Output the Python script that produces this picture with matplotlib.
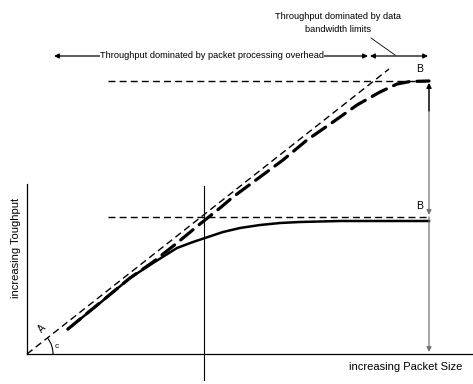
import numpy as np
import matplotlib.pyplot as plt
from matplotlib.patches import Arc

plt.rcParams['font.family'] = ['Liberation Sans', 'DejaVu Sans']

# packet size / throughput in drawing units (origin at the axes corner)
solid_x = [41, 73, 103, 126, 150, 166, 178, 196, 213, 233, 253, 273, 313, 402]
solid_y = [25, 51, 76, 91, 106, 112, 116, 122, 126, 129, 131, 132, 133, 133]

thick_x = [41, 103, 126, 150, 173, 193, 206, 233, 256, 280, 306, 330, 353,
           370, 383, 402]
thick_y = [25, 76, 92, 111, 130, 146, 157, 177, 194, 214, 232, 249, 262,
           270, 272.5, 273]

ideal_x = [0, 362]
ideal_y = [0, 285]

upper_limit = 273
lower_limit = 137
limit_x = [81, 402]
x_max = 446
y_top = 170
mid_x = 177
edge_x = 402

fig = plt.figure(figsize=(4.73, 3.84), dpi=100)
ax = fig.add_axes([0, 0, 1, 1])
ax.set_xlim(-27, 446)
ax.set_ylim(-30, 354)
ax.axis('off')

# axes
ax.plot([0, 0], [0, y_top], color='black', lw=0.9)
ax.plot([0, x_max], [0, 0], color='black', lw=0.9)
ax.plot([mid_x, mid_x], [-26, 168], color='black', lw=0.8)

# curves
ax.plot(ideal_x, ideal_y, color='black', lw=1.0, dashes=(5, 3))
ax.plot(limit_x, [upper_limit] * 2, color='black', lw=1.0, dashes=(5, 3))
ax.plot(limit_x, [lower_limit] * 2, color='black', lw=1.0, dashes=(5, 3))
ax.plot(solid_x, solid_y, color='black', lw=1.8, solid_joinstyle='round')
ax.plot(thick_x, thick_y, color='black', lw=2.3, dashes=(5, 2.5),
        dash_capstyle='round')

# angle at origin
ax.add_patch(Arc((0, 0), 52, 52, theta1=0, theta2=38, color='black', lw=0.8))
ax.text(30, 8, 'c', fontsize=6, ha='center', va='center')
ax.text(15, 25, 'A', fontsize=7, ha='center', va='center', rotation=45)

# right edge arrows
arr = dict(arrowstyle='-|>', color='0.45', lw=0.9, mutation_scale=7,
           shrinkA=0, shrinkB=0)
ax.annotate('', xy=(edge_x, upper_limit - 2), xytext=(edge_x, lower_limit + 2),
            arrowprops=dict(arr, arrowstyle='<|-|>'))
ax.annotate('', xy=(edge_x, upper_limit - 2), xytext=(edge_x, upper_limit - 30),
            arrowprops=dict(arr, color='black'))
ax.annotate('', xy=(edge_x, 2), xytext=(edge_x, lower_limit),
            arrowprops=arr)
ax.text(edge_x - 9, 285, 'B', fontsize=7.5, ha='center', va='center')
ax.text(edge_x - 9, 148, 'B', fontsize=7.5, ha='center', va='center')

# top annotations
harr = dict(arrowstyle='<|-|>', color='black', lw=0.9, mutation_scale=7,
            shrinkA=0, shrinkB=0)
ax.annotate('', xy=(27, 298), xytext=(341, 298), arrowprops=harr)
ax.annotate('', xy=(343, 298), xytext=(401, 298), arrowprops=harr)
ax.text(185, 298, 'Throughput dominated by packet processing overhead',
        fontsize=6.7, ha='center', va='center',
        bbox=dict(facecolor='white', edgecolor='none', pad=0.2))
ax.text(311, 331, 'Throughput dominated by data\nbandwidth limits',
        fontsize=6.7, ha='center', va='center', linespacing=1.45)
ax.plot([344, 368], [316, 299], color='black', lw=0.6)

ax.text(-11, 106, 'increasing Toughput', fontsize=8, rotation=90,
        ha='center', va='center')
ax.text(379, -13, 'increasing Packet Size', fontsize=8,
        ha='center', va='center')

fig.savefig('out.png', dpi=100)
